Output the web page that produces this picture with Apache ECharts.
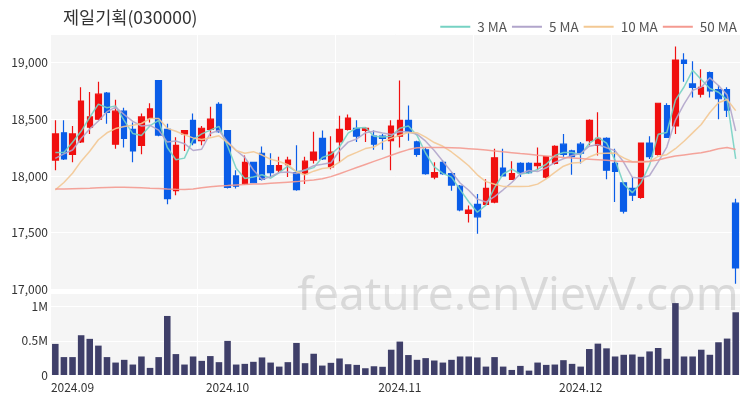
<!DOCTYPE html>
<html>
<head>
<meta charset="utf-8">
<script src="https://cdn.jsdelivr.net/npm/echarts@6/dist/echarts.min.js"></script>
<style>html,body{margin:0;padding:0;background:#fff}#c{width:750px;height:400px}</style>
</head>
<body>
<div id="c"></div>
<script>
const dates = [
 '2024-08-29','2024-08-30',
 '2024-09-02','2024-09-03','2024-09-04','2024-09-05','2024-09-06','2024-09-09','2024-09-10','2024-09-11','2024-09-12','2024-09-13',
 '2024-09-19','2024-09-20','2024-09-23','2024-09-24','2024-09-25','2024-09-26','2024-09-27','2024-09-30',
 '2024-10-02','2024-10-04','2024-10-07','2024-10-08','2024-10-10','2024-10-11','2024-10-14','2024-10-15','2024-10-16','2024-10-17','2024-10-18',
 '2024-10-21','2024-10-22','2024-10-23','2024-10-24','2024-10-25','2024-10-28','2024-10-29','2024-10-30','2024-10-31',
 '2024-11-01','2024-11-04','2024-11-05','2024-11-06','2024-11-07','2024-11-08','2024-11-11','2024-11-12','2024-11-13','2024-11-14','2024-11-15',
 '2024-11-18','2024-11-19','2024-11-20','2024-11-21','2024-11-22','2024-11-25','2024-11-26','2024-11-27','2024-11-28','2024-11-29',
 '2024-12-02','2024-12-03','2024-12-04','2024-12-05','2024-12-06','2024-12-09','2024-12-10','2024-12-11','2024-12-12','2024-12-13',
 '2024-12-16','2024-12-17','2024-12-18','2024-12-19','2024-12-20','2024-12-23','2024-12-24','2024-12-26','2024-12-27'
];
const openPrices = [18140,18380,18190,18300,18430,18500,18730,18280,18570,18410,18270,18510,18840,18410,17870,18370,18490,18310,18410,18630,18400,18000,17930,18120,18200,18090,18050,18100,18030,18020,18140,18330,18080,18300,18410,18420,18400,18350,18350,18310,18350,18490,18300,18230,17990,18120,18020,17910,17670,17750,17750,17770,18070,17970,18110,18110,18090,17990,18110,18280,18220,18280,18310,18270,18330,18110,17940,17890,17810,18290,18190,18620,18440,19020,18810,18720,18910,18760,18760,17760];
const closePrices = [18370,18150,18370,18660,18520,18720,18560,18570,18330,18220,18520,18590,18360,17800,18270,18400,18290,18420,18500,18390,17900,17910,18120,17940,17970,18030,18090,18140,17880,18130,18210,18150,18210,18410,18510,18350,18420,18280,18330,18440,18490,18390,18190,18020,18030,18020,17920,17700,17700,17640,17890,18160,18000,18020,18030,18030,18110,18170,18260,18190,18170,18200,18490,18330,18050,18040,17690,17830,18290,18170,18640,18340,19020,18990,18780,18780,18750,18680,18580,17190];
const lowPrices = [18050,18140,18120,18290,18370,18490,18460,18240,18250,18120,18190,18470,18350,17750,17830,18220,18270,18270,18350,18380,17890,17890,17920,17940,17960,17990,18030,17990,17870,17930,18110,18140,18060,18120,18400,18300,18300,18230,18230,18050,18250,18310,18170,18010,17970,18010,17870,17690,17590,17490,17740,17760,18000,17970,17990,18020,18050,17980,18100,18170,18010,18110,18270,18180,17970,17770,17670,17780,17800,18150,18180,18340,18370,18830,18690,18690,18690,18500,18520,17050];
const highPrices = [18490,18490,18440,18780,18740,18830,18740,18670,18600,18470,18550,18640,18840,18460,18340,18400,18550,18440,18610,18650,18400,18050,18180,18120,18260,18200,18170,18170,18270,18170,18390,18400,18350,18530,18540,18490,18430,18400,18370,18490,18840,18620,18310,18250,18120,18140,18030,17920,17740,17840,17970,18240,18240,18130,18120,18120,18250,18170,18270,18370,18230,18300,18500,18560,18340,18240,17940,17990,18290,18350,18640,18640,19140,19080,19010,18940,18920,18800,18780,17800];
const volumes = [455000,262000,262000,582000,529000,430000,262000,182000,222000,153000,271000,104000,262000,864000,306000,153000,271000,207000,277000,188000,499000,153000,163000,193000,257000,182000,123000,188000,469000,173000,311000,138000,178000,242000,158000,148000,99000,128000,120000,370000,489000,292000,222000,247000,212000,182000,222000,271000,271000,257000,123000,262000,123000,74000,133000,64000,182000,148000,153000,217000,163000,123000,380000,459000,390000,271000,296000,300000,267000,345000,395000,237000,1052000,271000,271000,370000,296000,479000,533000,918000];
// closes before the first visible day (estimated so the short MAs start where drawn)
const priorCloses = [17500,17550,17600,17650,17700,17950,18200,18150,18100];
// 50-day MA
const ma50 = [17885,17885,17888,17890,17892,17895,17898,17900,17900,17898,17895,17892,17890,17885,17882,17880,17885,17895,17905,17912,17915,17920,17925,17928,17930,17935,17940,17945,17950,17958,17965,17975,17994,18020,18047,18074,18101,18128,18155,18182,18208,18232,18248,18250,18250,18250,18248,18245,18240,18235,18228,18220,18212,18205,18197,18190,18182,18175,18168,18162,18157,18153,18148,18143,18138,18132,18127,18122,18122,18130,18140,18160,18175,18185,18195,18205,18220,18240,18250,18232];
const priceTicks = {min: 17000, max: 19250, step: 500};
const volumeTicks = {min: 0, max: 1200000, step: 500000};
const title = '제일기획(030000)';
const maNames = ['3 MA', '5 MA', '10 MA', '50 MA'];

function movingAverage(n) {
  const all = priorCloses.concat(closePrices);
  return closePrices.map((_, i) => {
    const end = priorCloses.length + i;
    let s = 0;
    for (let k = end - n + 1; k <= end; k++) s += all[k];
    return Math.round(s / n);
  });
}

const candleData = dates.map((d, i) => [openPrices[i], closePrices[i], lowPrices[i], highPrices[i]]);
const isMonthStart = (idx) => idx > 0 && dates[idx].slice(0, 7) !== dates[idx - 1].slice(0, 7);
const isSplit = (idx) => idx > 1 && idx % 16 === 1;

const FONT = '"Noto Sans CJK KR", "Noto Sans", sans-serif';
const chart = echarts.init(document.getElementById('c'), null, {renderer: 'canvas'});
chart.setOption({
  animation: false,
  backgroundColor: '#ffffff',
  textStyle: {fontFamily: FONT},
  title: {text: title, left: 63, top: 9, padding: 0,
    textStyle: {fontSize: 17.5, fontWeight: 'normal', color: '#333', fontFamily: FONT}},
  legend: {
    data: maNames, right: 8, top: 15, itemWidth: 30, itemHeight: 2, itemGap: 5,
    icon: 'rect',
    textStyle: {fontSize: 13.5, color: '#555', fontFamily: FONT, padding: [0, 0, 0, 2]}
  },
  graphic: [{
    type: 'text', z: 1, x: 518, y: 297,
    style: {text: 'feature.enVievV.com', font: '46px "Noto Sans", sans-serif',
      fill: 'rgba(150,150,150,0.3)', align: 'center', verticalAlign: 'middle'}
  }],
  grid: [
    {left: 51, right: 10, top: 34, height: 255.5, show: true, backgroundColor: '#f5f5f5', borderWidth: 0},
    {left: 51, right: 10, top: 293, height: 82, show: true, backgroundColor: '#f5f5f5', borderWidth: 0}
  ],
  xAxis: [
    {type: 'category', gridIndex: 0, data: dates, boundaryGap: true,
     axisLine: {show: false}, axisTick: {show: false}, axisLabel: {show: false},
     splitLine: {show: true, interval: isSplit, lineStyle: {color: '#ffffff', width: 1}}},
    {type: 'category', gridIndex: 1, data: dates, boundaryGap: true,
     axisLine: {show: false}, axisTick: {show: false},
     axisLabel: {show: true, interval: isMonthStart, margin: 6, fontSize: 12, color: '#333', fontFamily: FONT,
       formatter: (v) => v.slice(0, 7).replace('-', '.')},
     splitLine: {show: true, interval: isSplit, lineStyle: {color: '#ffffff', width: 1}}}
  ],
  yAxis: [
    {type: 'value', gridIndex: 0, min: priceTicks.min, max: priceTicks.max, interval: priceTicks.step,
     axisLine: {show: false}, axisTick: {show: false},
     axisLabel: {showMaxLabel: false, margin: 3, fontSize: 12, color: '#333', fontFamily: FONT},
     splitLine: {lineStyle: {color: '#ffffff', width: 1}}},
    {type: 'value', gridIndex: 1, min: volumeTicks.min, max: volumeTicks.max, interval: volumeTicks.step,
     axisLine: {show: false}, axisTick: {show: false},
     axisLabel: {showMaxLabel: false, margin: 3, fontSize: 12, color: '#333', fontFamily: FONT,
       formatter: (v) => v === 0 ? '0' : (v / 1000000) + 'M'},
     splitLine: {lineStyle: {color: '#ffffff', width: 1}}}
  ],
  series: [
    {type: 'candlestick', name: 'price', xAxisIndex: 0, yAxisIndex: 0, data: candleData, barWidth: 6,
     itemStyle: {color: '#f01010', color0: '#0a5de8', borderColor: '#f01010', borderColor0: '#0a5de8', borderWidth: 1.2}},
    {type: 'line', name: '3 MA', data: movingAverage(3), symbol: 'none', xAxisIndex: 0, yAxisIndex: 0,
     lineStyle: {color: '#76d2c3', width: 1.5, opacity: 0.9}, itemStyle: {color: '#76d2c3'}},
    {type: 'line', name: '5 MA', data: movingAverage(5), symbol: 'none', xAxisIndex: 0, yAxisIndex: 0,
     lineStyle: {color: '#b1a5cb', width: 1.5, opacity: 0.9}, itemStyle: {color: '#b1a5cb'}},
    {type: 'line', name: '10 MA', data: movingAverage(10), symbol: 'none', xAxisIndex: 0, yAxisIndex: 0,
     lineStyle: {color: '#f3c893', width: 1.5, opacity: 0.9}, itemStyle: {color: '#f3c893'}},
    {type: 'line', name: '50 MA', data: ma50, symbol: 'none', xAxisIndex: 0, yAxisIndex: 0,
     lineStyle: {color: '#f49a90', width: 1.5, opacity: 0.9}, itemStyle: {color: '#f49a90'}},
    {type: 'bar', name: 'volume', xAxisIndex: 1, yAxisIndex: 1, data: volumes, barWidth: '76%',
     itemStyle: {color: '#3f3f69'}}
  ]
});
</script>
</body>
</html>
